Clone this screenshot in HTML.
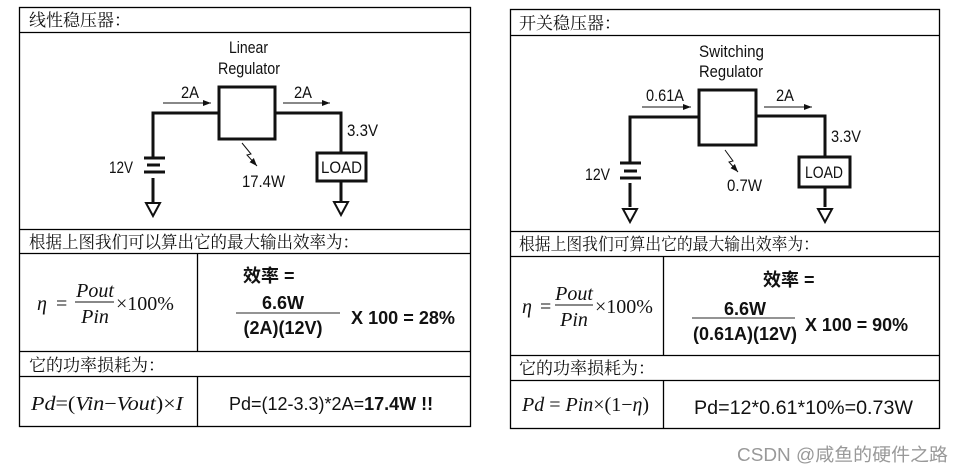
<!DOCTYPE html>
<html><head><meta charset="utf-8"><style>
html,body{margin:0;padding:0;background:#fff;width:964px;height:472px;overflow:hidden}
.cj{font-family:"Liberation Serif","Noto Serif CJK SC",serif;font-size:17px;fill:#111}
.ar{font-family:"Liberation Sans",sans-serif;fill:#111}
.ms{font-family:"Liberation Serif",serif;fill:#111}
</style></head><body>
<svg width="964" height="472" viewBox="0 0 964 472" xmlns="http://www.w3.org/2000/svg">
<defs><marker id="ah" markerWidth="8" markerHeight="6" refX="8" refY="3" orient="auto" markerUnits="userSpaceOnUse"><path d="M0,0 L8,3 L0,6 z" fill="#111"/></marker></defs>
<!-- LEFT TABLE -->
<g fill="none" stroke="#000" stroke-width="1.3">
<rect x="19.5" y="7.5" width="451" height="419"/>
<line x1="19" y1="32.5" x2="471" y2="32.5"/>
<line x1="19" y1="229.5" x2="471" y2="229.5"/>
<line x1="19" y1="253.5" x2="471" y2="253.5"/>
<line x1="19" y1="351.5" x2="471" y2="351.5"/>
<line x1="19" y1="376.5" x2="471" y2="376.5"/>
<line x1="197.5" y1="253" x2="197.5" y2="351"/>
<line x1="197.5" y1="376" x2="197.5" y2="426"/>
</g>
<text class="cj" x="29" y="26">线性稳压器：</text>
<text class="cj" x="29" y="248" textLength="330" lengthAdjust="spacingAndGlyphs">根据上图我们可以算出它的最大输出效率为：</text>
<text class="cj" x="29" y="371">它的功率损耗为：</text>
<!-- left circuit -->
<g fill="none" stroke="#111" stroke-width="3">
<polyline points="153,157 153,113 219,113"/>
<rect x="219" y="87" width="56" height="52"/>
<polyline points="275,113 341,113 341,153"/>
<rect x="317" y="153" width="49" height="28"/>
<line x1="341" y1="181" x2="341" y2="201"/>
<line x1="144" y1="158" x2="165" y2="158"/>
<line x1="147" y1="165" x2="160" y2="165"/>
<line x1="144" y1="172" x2="165" y2="172"/>
<line x1="153" y1="178" x2="153" y2="202"/>
</g>
<g fill="none" stroke="#111" stroke-width="2">
<path d="M146,203 L160,203 L153,216 z"/>
<path d="M334,202 L348,202 L341,215 z"/>
</g>
<g stroke="#111" stroke-width="1">
<line x1="163" y1="103" x2="211" y2="103" marker-end="url(#ah)"/>
<line x1="283" y1="103" x2="330" y2="103" marker-end="url(#ah)"/>
<polyline fill="none" points="242,143 251,154 247,155 257,166" marker-end="url(#ah)"/>
</g>
<g class="ar" font-size="17">
<text x="229" y="53" textLength="39" lengthAdjust="spacingAndGlyphs">Linear</text>
<text x="218" y="74" textLength="62" lengthAdjust="spacingAndGlyphs">Regulator</text>
<text x="181" y="98" textLength="18" lengthAdjust="spacingAndGlyphs">2A</text>
<text x="294" y="98" textLength="18" lengthAdjust="spacingAndGlyphs">2A</text>
<text x="347" y="136" textLength="31" lengthAdjust="spacingAndGlyphs">3.3V</text>
<text x="109" y="173" textLength="24" lengthAdjust="spacingAndGlyphs">12V</text>
<text x="242" y="187" textLength="43" lengthAdjust="spacingAndGlyphs">17.4W</text>
<text x="321" y="173" textLength="41" lengthAdjust="spacingAndGlyphs">LOAD</text>
</g>
<!-- left formulas -->
<g class="ms" font-size="20">
<text x="37" y="310" font-style="italic">η</text>
<text x="56" y="310">=</text>
<text x="95" y="297" text-anchor="middle" font-style="italic">Pout</text>
<text x="95" y="323" text-anchor="middle" font-style="italic">Pin</text>
<text x="116" y="310">×100%</text>
<text x="31" y="410" textLength="152" lengthAdjust="spacingAndGlyphs"><tspan font-style="italic">Pd</tspan>=(<tspan font-style="italic">Vin</tspan>−<tspan font-style="italic">Vout</tspan>)×<tspan font-style="italic">I</tspan></text>
</g>
<line x1="75" y1="302" x2="114" y2="302" stroke="#111" stroke-width="1"/>
<g class="ar" font-size="18" font-weight="bold">
<text x="243" y="282" font-family="'Liberation Sans','Noto Sans CJK SC',sans-serif">效率 =</text>
<text x="283" y="309" text-anchor="middle">6.6W</text>
<text x="283" y="334" text-anchor="middle">(2A)(12V)</text>
<text x="351" y="324" textLength="104" lengthAdjust="spacingAndGlyphs">X 100 = 28%</text>
</g>
<line x1="236" y1="313" x2="340" y2="313" stroke="#555" stroke-width="1.3"/>
<text class="ar" x="229" y="410" font-size="18">Pd=(12-3.3)*2A=<tspan font-weight="bold">17.4W !!</tspan></text>

<!-- RIGHT TABLE -->
<g fill="none" stroke="#000" stroke-width="1.3">
<rect x="510.5" y="9.5" width="429" height="419"/>
<line x1="510" y1="35.5" x2="940" y2="35.5"/>
<line x1="510" y1="231.5" x2="940" y2="231.5"/>
<line x1="510" y1="256.5" x2="940" y2="256.5"/>
<line x1="510" y1="355.5" x2="940" y2="355.5"/>
<line x1="510" y1="380.5" x2="940" y2="380.5"/>
<line x1="663.5" y1="256" x2="663.5" y2="355"/>
<line x1="663.5" y1="380" x2="663.5" y2="428"/>
</g>
<text class="cj" x="519" y="29">开关稳压器：</text>
<text class="cj" x="519" y="250" textLength="300" lengthAdjust="spacingAndGlyphs">根据上图我们可算出它的最大输出效率为：</text>
<text class="cj" x="519" y="374">它的功率损耗为：</text>
<!-- right circuit -->
<g fill="none" stroke="#111" stroke-width="3">
<polyline points="630,162 630,117 699,117"/>
<rect x="699" y="90" width="57" height="55"/>
<polyline points="756,116 825,116 825,157"/>
<rect x="799" y="157" width="51" height="30"/>
<line x1="825" y1="187" x2="825" y2="207"/>
<line x1="620" y1="163" x2="641" y2="163"/>
<line x1="624" y1="171" x2="637" y2="171"/>
<line x1="620" y1="178" x2="641" y2="178"/>
<line x1="630" y1="183" x2="630" y2="207"/>
</g>
<g fill="none" stroke="#111" stroke-width="2">
<path d="M623,209 L637,209 L630,222 z"/>
<path d="M818,209 L832,209 L825,222 z"/>
</g>
<g stroke="#111" stroke-width="1">
<line x1="642" y1="107" x2="691" y2="107" marker-end="url(#ah)"/>
<line x1="764" y1="107" x2="812" y2="107" marker-end="url(#ah)"/>
<polyline fill="none" points="725,150 733,161 729,162 738,172" marker-end="url(#ah)"/>
</g>
<g class="ar" font-size="17">
<text x="699" y="57" textLength="65" lengthAdjust="spacingAndGlyphs">Switching</text>
<text x="699" y="77" textLength="64" lengthAdjust="spacingAndGlyphs">Regulator</text>
<text x="646" y="101" textLength="38" lengthAdjust="spacingAndGlyphs">0.61A</text>
<text x="776" y="101" textLength="18" lengthAdjust="spacingAndGlyphs">2A</text>
<text x="831" y="142" textLength="30" lengthAdjust="spacingAndGlyphs">3.3V</text>
<text x="585" y="180" textLength="25" lengthAdjust="spacingAndGlyphs">12V</text>
<text x="727" y="191" textLength="35" lengthAdjust="spacingAndGlyphs">0.7W</text>
<text x="805" y="178" textLength="38" lengthAdjust="spacingAndGlyphs">LOAD</text>
</g>
<g class="ms" font-size="20">
<text x="522" y="313" font-style="italic">η</text>
<text x="540" y="313">=</text>
<text x="574" y="300" text-anchor="middle" font-style="italic">Pout</text>
<text x="574" y="326" text-anchor="middle" font-style="italic">Pin</text>
<text x="595" y="313">×100%</text>
<text x="522" y="411"><tspan font-style="italic">Pd</tspan> = <tspan font-style="italic">Pin</tspan>×(1−<tspan font-style="italic">η</tspan>)</text>
</g>
<line x1="555" y1="305" x2="593" y2="305" stroke="#111" stroke-width="1"/>
<g class="ar" font-size="18" font-weight="bold">
<text x="763" y="286" font-family="'Liberation Sans','Noto Sans CJK SC',sans-serif">效率 =</text>
<text x="745" y="315" text-anchor="middle">6.6W</text>
<text x="745" y="340" text-anchor="middle">(0.61A)(12V)</text>
<text x="805" y="331" textLength="103" lengthAdjust="spacingAndGlyphs">X 100 = 90%</text>
</g>
<line x1="692" y1="318" x2="795" y2="318" stroke="#555" stroke-width="1.3"/>
<text class="ar" x="694" y="414" font-size="19" textLength="219" lengthAdjust="spacingAndGlyphs">Pd=12*0.61*10%=0.73W</text>
<text x="737" y="461" font-size="18" fill="#999" textLength="211" lengthAdjust="spacingAndGlyphs" font-family="'Liberation Sans','Noto Sans CJK SC',sans-serif">CSDN @咸鱼的硬件之路</text>
</svg>
</body></html>
